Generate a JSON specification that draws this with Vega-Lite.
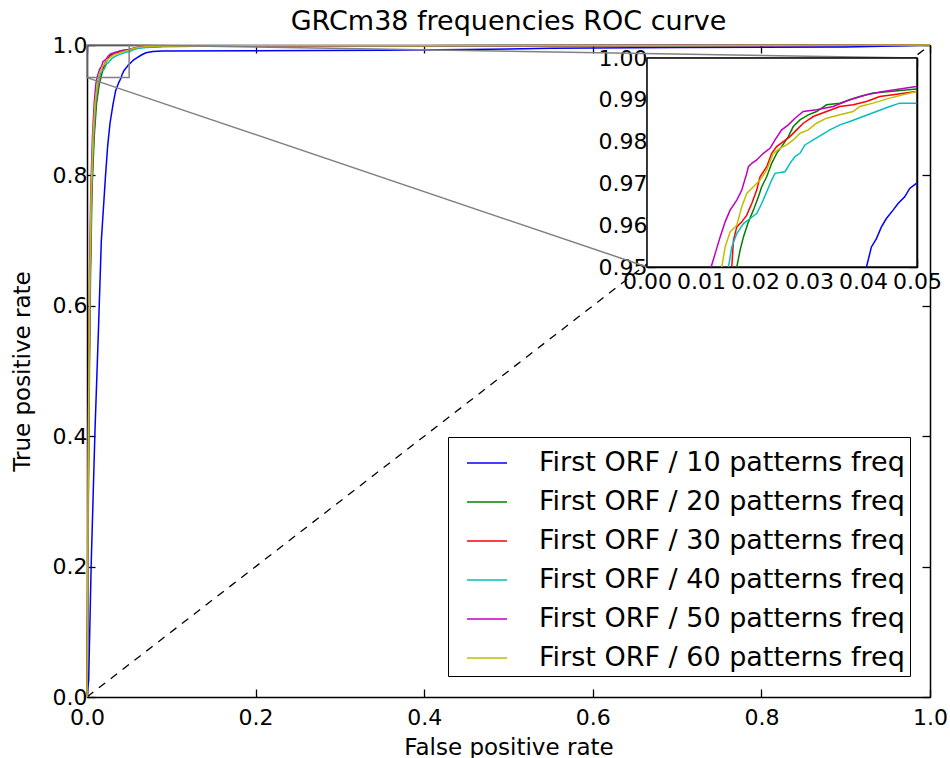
{
"$schema": "https://vega.github.io/schema/vega-lite/v6.json",
"width": 843, "height": 652, "autosize": "none",
"padding": {"left": 87, "top": 45, "right": 20, "bottom": 61},
"background": "white",
"title": {"text": "GRCm38 frequencies ROC curve", "fontSize": 27, "font": "DejaVu Sans", "fontWeight": "normal", "anchor": "middle", "frame": "group", "offset": -2, "color": "black"},
"datasets": {
"roc": [
{"s":"First ORF / 10 patterns freq","i":0,"x":0,"y":0},
{"s":"First ORF / 10 patterns freq","i":1,"x":0.002,"y":0.026},
{"s":"First ORF / 10 patterns freq","i":2,"x":0.005,"y":0.205},
{"s":"First ORF / 10 patterns freq","i":3,"x":0.0095,"y":0.41},
{"s":"First ORF / 10 patterns freq","i":4,"x":0.0135,"y":0.56},
{"s":"First ORF / 10 patterns freq","i":5,"x":0.017,"y":0.70},
{"s":"First ORF / 10 patterns freq","i":6,"x":0.0195,"y":0.75},
{"s":"First ORF / 10 patterns freq","i":7,"x":0.022,"y":0.80},
{"s":"First ORF / 10 patterns freq","i":8,"x":0.0245,"y":0.845},
{"s":"First ORF / 10 patterns freq","i":9,"x":0.0273,"y":0.88},
{"s":"First ORF / 10 patterns freq","i":10,"x":0.031,"y":0.91},
{"s":"First ORF / 10 patterns freq","i":11,"x":0.034,"y":0.93},
{"s":"First ORF / 10 patterns freq","i":12,"x":0.0375,"y":0.942},
{"s":"First ORF / 10 patterns freq","i":13,"x":0.04064,"y":0.95},
{"s":"First ORF / 10 patterns freq","i":14,"x":0.04156,"y":0.9548},
{"s":"First ORF / 10 patterns freq","i":15,"x":0.04249,"y":0.9568},
{"s":"First ORF / 10 patterns freq","i":16,"x":0.04341,"y":0.9596},
{"s":"First ORF / 10 patterns freq","i":17,"x":0.04433,"y":0.9616},
{"s":"First ORF / 10 patterns freq","i":18,"x":0.04557,"y":0.9636},
{"s":"First ORF / 10 patterns freq","i":19,"x":0.04649,"y":0.9652},
{"s":"First ORF / 10 patterns freq","i":20,"x":0.04772,"y":0.9668},
{"s":"First ORF / 10 patterns freq","i":21,"x":0.04865,"y":0.9688},
{"s":"First ORF / 10 patterns freq","i":22,"x":0.04988,"y":0.97},
{"s":"First ORF / 10 patterns freq","i":23,"x":0.055,"y":0.977},
{"s":"First ORF / 10 patterns freq","i":24,"x":0.06,"y":0.981},
{"s":"First ORF / 10 patterns freq","i":25,"x":0.065,"y":0.985},
{"s":"First ORF / 10 patterns freq","i":26,"x":0.07,"y":0.988},
{"s":"First ORF / 10 patterns freq","i":27,"x":0.078,"y":0.990},
{"s":"First ORF / 10 patterns freq","i":28,"x":0.09,"y":0.9908},
{"s":"First ORF / 10 patterns freq","i":29,"x":0.2,"y":0.9912},
{"s":"First ORF / 10 patterns freq","i":30,"x":0.35,"y":0.992},
{"s":"First ORF / 10 patterns freq","i":31,"x":0.45,"y":0.993},
{"s":"First ORF / 10 patterns freq","i":32,"x":0.55,"y":0.995},
{"s":"First ORF / 10 patterns freq","i":33,"x":0.7,"y":0.996},
{"s":"First ORF / 10 patterns freq","i":34,"x":0.9,"y":0.997},
{"s":"First ORF / 10 patterns freq","i":35,"x":0.97,"y":0.999},
{"s":"First ORF / 10 patterns freq","i":36,"x":1,"y":1},
{"s":"First ORF / 20 patterns freq","i":0,"x":0,"y":0},
{"s":"First ORF / 20 patterns freq","i":1,"x":0.0008,"y":0.1},
{"s":"First ORF / 20 patterns freq","i":2,"x":0.0016,"y":0.3},
{"s":"First ORF / 20 patterns freq","i":3,"x":0.0029,"y":0.5},
{"s":"First ORF / 20 patterns freq","i":4,"x":0.0042,"y":0.65},
{"s":"First ORF / 20 patterns freq","i":5,"x":0.006,"y":0.78},
{"s":"First ORF / 20 patterns freq","i":6,"x":0.0086,"y":0.86},
{"s":"First ORF / 20 patterns freq","i":7,"x":0.0113,"y":0.91},
{"s":"First ORF / 20 patterns freq","i":8,"x":0.0146,"y":0.94},
{"s":"First ORF / 20 patterns freq","i":9,"x":0.01663,"y":0.95},
{"s":"First ORF / 20 patterns freq","i":10,"x":0.01724,"y":0.954},
{"s":"First ORF / 20 patterns freq","i":11,"x":0.01786,"y":0.9572},
{"s":"First ORF / 20 patterns freq","i":12,"x":0.01878,"y":0.9608},
{"s":"First ORF / 20 patterns freq","i":13,"x":0.0197,"y":0.9636},
{"s":"First ORF / 20 patterns freq","i":14,"x":0.02063,"y":0.9668},
{"s":"First ORF / 20 patterns freq","i":15,"x":0.02124,"y":0.9692},
{"s":"First ORF / 20 patterns freq","i":16,"x":0.02217,"y":0.9716},
{"s":"First ORF / 20 patterns freq","i":17,"x":0.02309,"y":0.9748},
{"s":"First ORF / 20 patterns freq","i":18,"x":0.02401,"y":0.9772},
{"s":"First ORF / 20 patterns freq","i":19,"x":0.02494,"y":0.9788},
{"s":"First ORF / 20 patterns freq","i":20,"x":0.02617,"y":0.9812},
{"s":"First ORF / 20 patterns freq","i":21,"x":0.02709,"y":0.9836},
{"s":"First ORF / 20 patterns freq","i":22,"x":0.02832,"y":0.9852},
{"s":"First ORF / 20 patterns freq","i":23,"x":0.02986,"y":0.9864},
{"s":"First ORF / 20 patterns freq","i":24,"x":0.0314,"y":0.9872},
{"s":"First ORF / 20 patterns freq","i":25,"x":0.03325,"y":0.9888},
{"s":"First ORF / 20 patterns freq","i":26,"x":0.03571,"y":0.9892},
{"s":"First ORF / 20 patterns freq","i":27,"x":0.03756,"y":0.99},
{"s":"First ORF / 20 patterns freq","i":28,"x":0.03941,"y":0.9908},
{"s":"First ORF / 20 patterns freq","i":29,"x":0.04187,"y":0.9916},
{"s":"First ORF / 20 patterns freq","i":30,"x":0.04495,"y":0.992},
{"s":"First ORF / 20 patterns freq","i":31,"x":0.04988,"y":0.99256},
{"s":"First ORF / 20 patterns freq","i":32,"x":0.055,"y":0.9945},
{"s":"First ORF / 20 patterns freq","i":33,"x":0.06,"y":0.996},
{"s":"First ORF / 20 patterns freq","i":34,"x":0.07,"y":0.997},
{"s":"First ORF / 20 patterns freq","i":35,"x":0.09,"y":0.998},
{"s":"First ORF / 20 patterns freq","i":36,"x":0.15,"y":0.9985},
{"s":"First ORF / 20 patterns freq","i":37,"x":0.4,"y":0.999},
{"s":"First ORF / 20 patterns freq","i":38,"x":0.75,"y":0.9993},
{"s":"First ORF / 20 patterns freq","i":39,"x":1,"y":1},
{"s":"First ORF / 30 patterns freq","i":0,"x":0,"y":0},
{"s":"First ORF / 30 patterns freq","i":1,"x":0.0007,"y":0.1},
{"s":"First ORF / 30 patterns freq","i":2,"x":0.0014,"y":0.3},
{"s":"First ORF / 30 patterns freq","i":3,"x":0.0026,"y":0.5},
{"s":"First ORF / 30 patterns freq","i":4,"x":0.0038,"y":0.65},
{"s":"First ORF / 30 patterns freq","i":5,"x":0.0055,"y":0.78},
{"s":"First ORF / 30 patterns freq","i":6,"x":0.008,"y":0.86},
{"s":"First ORF / 30 patterns freq","i":7,"x":0.0105,"y":0.91},
{"s":"First ORF / 30 patterns freq","i":8,"x":0.0138,"y":0.94},
{"s":"First ORF / 30 patterns freq","i":9,"x":0.0157,"y":0.95},
{"s":"First ORF / 30 patterns freq","i":10,"x":0.01601,"y":0.9564},
{"s":"First ORF / 30 patterns freq","i":11,"x":0.01663,"y":0.9596},
{"s":"First ORF / 30 patterns freq","i":12,"x":0.01755,"y":0.9608},
{"s":"First ORF / 30 patterns freq","i":13,"x":0.01847,"y":0.9624},
{"s":"First ORF / 30 patterns freq","i":14,"x":0.0194,"y":0.9652},
{"s":"First ORF / 30 patterns freq","i":15,"x":0.02032,"y":0.9684},
{"s":"First ORF / 30 patterns freq","i":16,"x":0.02094,"y":0.9716},
{"s":"First ORF / 30 patterns freq","i":17,"x":0.02217,"y":0.974},
{"s":"First ORF / 30 patterns freq","i":18,"x":0.02309,"y":0.9772},
{"s":"First ORF / 30 patterns freq","i":19,"x":0.02401,"y":0.9788},
{"s":"First ORF / 30 patterns freq","i":20,"x":0.02525,"y":0.98},
{"s":"First ORF / 30 patterns freq","i":21,"x":0.02648,"y":0.9812},
{"s":"First ORF / 30 patterns freq","i":22,"x":0.02771,"y":0.9828},
{"s":"First ORF / 30 patterns freq","i":23,"x":0.02894,"y":0.9844},
{"s":"First ORF / 30 patterns freq","i":24,"x":0.03079,"y":0.986},
{"s":"First ORF / 30 patterns freq","i":25,"x":0.03325,"y":0.9872},
{"s":"First ORF / 30 patterns freq","i":26,"x":0.03571,"y":0.9884},
{"s":"First ORF / 30 patterns freq","i":27,"x":0.03818,"y":0.9888},
{"s":"First ORF / 30 patterns freq","i":28,"x":0.04064,"y":0.9896},
{"s":"First ORF / 30 patterns freq","i":29,"x":0.0431,"y":0.9908},
{"s":"First ORF / 30 patterns freq","i":30,"x":0.04557,"y":0.9912},
{"s":"First ORF / 30 patterns freq","i":31,"x":0.04988,"y":0.992},
{"s":"First ORF / 30 patterns freq","i":32,"x":0.055,"y":0.9945},
{"s":"First ORF / 30 patterns freq","i":33,"x":0.06,"y":0.996},
{"s":"First ORF / 30 patterns freq","i":34,"x":0.07,"y":0.9972},
{"s":"First ORF / 30 patterns freq","i":35,"x":0.09,"y":0.998},
{"s":"First ORF / 30 patterns freq","i":36,"x":0.15,"y":0.9985},
{"s":"First ORF / 30 patterns freq","i":37,"x":0.4,"y":0.9988},
{"s":"First ORF / 30 patterns freq","i":38,"x":0.78,"y":0.9992},
{"s":"First ORF / 30 patterns freq","i":39,"x":1,"y":1},
{"s":"First ORF / 40 patterns freq","i":0,"x":0,"y":0},
{"s":"First ORF / 40 patterns freq","i":1,"x":0.0006,"y":0.1},
{"s":"First ORF / 40 patterns freq","i":2,"x":0.0013,"y":0.3},
{"s":"First ORF / 40 patterns freq","i":3,"x":0.0025,"y":0.5},
{"s":"First ORF / 40 patterns freq","i":4,"x":0.0037,"y":0.65},
{"s":"First ORF / 40 patterns freq","i":5,"x":0.0054,"y":0.78},
{"s":"First ORF / 40 patterns freq","i":6,"x":0.0078,"y":0.86},
{"s":"First ORF / 40 patterns freq","i":7,"x":0.0102,"y":0.91},
{"s":"First ORF / 40 patterns freq","i":8,"x":0.0133,"y":0.94},
{"s":"First ORF / 40 patterns freq","i":9,"x":0.01509,"y":0.95},
{"s":"First ORF / 40 patterns freq","i":10,"x":0.0157,"y":0.9548},
{"s":"First ORF / 40 patterns freq","i":11,"x":0.01663,"y":0.958},
{"s":"First ORF / 40 patterns freq","i":12,"x":0.01786,"y":0.9604},
{"s":"First ORF / 40 patterns freq","i":13,"x":0.01909,"y":0.9616},
{"s":"First ORF / 40 patterns freq","i":14,"x":0.02032,"y":0.9628},
{"s":"First ORF / 40 patterns freq","i":15,"x":0.02124,"y":0.9652},
{"s":"First ORF / 40 patterns freq","i":16,"x":0.02217,"y":0.968},
{"s":"First ORF / 40 patterns freq","i":17,"x":0.02309,"y":0.9708},
{"s":"First ORF / 40 patterns freq","i":18,"x":0.02371,"y":0.9724},
{"s":"First ORF / 40 patterns freq","i":19,"x":0.02555,"y":0.9728},
{"s":"First ORF / 40 patterns freq","i":20,"x":0.02648,"y":0.9748},
{"s":"First ORF / 40 patterns freq","i":21,"x":0.0274,"y":0.9764},
{"s":"First ORF / 40 patterns freq","i":22,"x":0.02832,"y":0.9772},
{"s":"First ORF / 40 patterns freq","i":23,"x":0.02925,"y":0.9792},
{"s":"First ORF / 40 patterns freq","i":24,"x":0.03079,"y":0.9804},
{"s":"First ORF / 40 patterns freq","i":25,"x":0.03233,"y":0.9816},
{"s":"First ORF / 40 patterns freq","i":26,"x":0.03387,"y":0.9828},
{"s":"First ORF / 40 patterns freq","i":27,"x":0.03571,"y":0.984},
{"s":"First ORF / 40 patterns freq","i":28,"x":0.03756,"y":0.9848},
{"s":"First ORF / 40 patterns freq","i":29,"x":0.04002,"y":0.986},
{"s":"First ORF / 40 patterns freq","i":30,"x":0.04248,"y":0.9872},
{"s":"First ORF / 40 patterns freq","i":31,"x":0.04495,"y":0.9884},
{"s":"First ORF / 40 patterns freq","i":32,"x":0.0468,"y":0.9892},
{"s":"First ORF / 40 patterns freq","i":33,"x":0.04988,"y":0.9892},
{"s":"First ORF / 40 patterns freq","i":34,"x":0.055,"y":0.9925},
{"s":"First ORF / 40 patterns freq","i":35,"x":0.06,"y":0.9945},
{"s":"First ORF / 40 patterns freq","i":36,"x":0.07,"y":0.9962},
{"s":"First ORF / 40 patterns freq","i":37,"x":0.09,"y":0.9975},
{"s":"First ORF / 40 patterns freq","i":38,"x":0.15,"y":0.9983},
{"s":"First ORF / 40 patterns freq","i":39,"x":0.4,"y":0.999},
{"s":"First ORF / 40 patterns freq","i":40,"x":0.7,"y":0.9993},
{"s":"First ORF / 40 patterns freq","i":41,"x":1,"y":1},
{"s":"First ORF / 50 patterns freq","i":0,"x":0,"y":0},
{"s":"First ORF / 50 patterns freq","i":1,"x":0.0005,"y":0.1},
{"s":"First ORF / 50 patterns freq","i":2,"x":0.001,"y":0.3},
{"s":"First ORF / 50 patterns freq","i":3,"x":0.002,"y":0.5},
{"s":"First ORF / 50 patterns freq","i":4,"x":0.003,"y":0.65},
{"s":"First ORF / 50 patterns freq","i":5,"x":0.0045,"y":0.78},
{"s":"First ORF / 50 patterns freq","i":6,"x":0.0065,"y":0.86},
{"s":"First ORF / 50 patterns freq","i":7,"x":0.0085,"y":0.91},
{"s":"First ORF / 50 patterns freq","i":8,"x":0.0105,"y":0.94},
{"s":"First ORF / 50 patterns freq","i":9,"x":0.01188,"y":0.95},
{"s":"First ORF / 50 patterns freq","i":10,"x":0.01262,"y":0.9532},
{"s":"First ORF / 50 patterns freq","i":11,"x":0.01355,"y":0.9572},
{"s":"First ORF / 50 patterns freq","i":12,"x":0.01447,"y":0.9608},
{"s":"First ORF / 50 patterns freq","i":13,"x":0.01539,"y":0.9636},
{"s":"First ORF / 50 patterns freq","i":14,"x":0.01663,"y":0.966},
{"s":"First ORF / 50 patterns freq","i":15,"x":0.01755,"y":0.9684},
{"s":"First ORF / 50 patterns freq","i":16,"x":0.01847,"y":0.9724},
{"s":"First ORF / 50 patterns freq","i":17,"x":0.01878,"y":0.974},
{"s":"First ORF / 50 patterns freq","i":18,"x":0.0194,"y":0.9748},
{"s":"First ORF / 50 patterns freq","i":19,"x":0.02032,"y":0.9756},
{"s":"First ORF / 50 patterns freq","i":20,"x":0.02155,"y":0.9772},
{"s":"First ORF / 50 patterns freq","i":21,"x":0.02278,"y":0.9784},
{"s":"First ORF / 50 patterns freq","i":22,"x":0.02371,"y":0.9804},
{"s":"First ORF / 50 patterns freq","i":23,"x":0.02494,"y":0.9828},
{"s":"First ORF / 50 patterns freq","i":24,"x":0.02617,"y":0.984},
{"s":"First ORF / 50 patterns freq","i":25,"x":0.0274,"y":0.9856},
{"s":"First ORF / 50 patterns freq","i":26,"x":0.02894,"y":0.9872},
{"s":"First ORF / 50 patterns freq","i":27,"x":0.0314,"y":0.9876},
{"s":"First ORF / 50 patterns freq","i":28,"x":0.03448,"y":0.9884},
{"s":"First ORF / 50 patterns freq","i":29,"x":0.03756,"y":0.99},
{"s":"First ORF / 50 patterns freq","i":30,"x":0.04064,"y":0.9912},
{"s":"First ORF / 50 patterns freq","i":31,"x":0.04372,"y":0.992},
{"s":"First ORF / 50 patterns freq","i":32,"x":0.0468,"y":0.99256},
{"s":"First ORF / 50 patterns freq","i":33,"x":0.04988,"y":0.9932},
{"s":"First ORF / 50 patterns freq","i":34,"x":0.055,"y":0.995},
{"s":"First ORF / 50 patterns freq","i":35,"x":0.06,"y":0.9965},
{"s":"First ORF / 50 patterns freq","i":36,"x":0.07,"y":0.9975},
{"s":"First ORF / 50 patterns freq","i":37,"x":0.09,"y":0.998},
{"s":"First ORF / 50 patterns freq","i":38,"x":0.15,"y":0.9985},
{"s":"First ORF / 50 patterns freq","i":39,"x":0.4,"y":0.999},
{"s":"First ORF / 50 patterns freq","i":40,"x":0.7,"y":0.9995},
{"s":"First ORF / 50 patterns freq","i":41,"x":1,"y":1},
{"s":"First ORF / 60 patterns freq","i":0,"x":0,"y":0},
{"s":"First ORF / 60 patterns freq","i":1,"x":0.0006,"y":0.1},
{"s":"First ORF / 60 patterns freq","i":2,"x":0.0012,"y":0.3},
{"s":"First ORF / 60 patterns freq","i":3,"x":0.0023,"y":0.5},
{"s":"First ORF / 60 patterns freq","i":4,"x":0.0034,"y":0.65},
{"s":"First ORF / 60 patterns freq","i":5,"x":0.005,"y":0.78},
{"s":"First ORF / 60 patterns freq","i":6,"x":0.0072,"y":0.86},
{"s":"First ORF / 60 patterns freq","i":7,"x":0.0095,"y":0.91},
{"s":"First ORF / 60 patterns freq","i":8,"x":0.0122,"y":0.94},
{"s":"First ORF / 60 patterns freq","i":9,"x":0.01385,"y":0.95},
{"s":"First ORF / 60 patterns freq","i":10,"x":0.01447,"y":0.9548},
{"s":"First ORF / 60 patterns freq","i":11,"x":0.01539,"y":0.9584},
{"s":"First ORF / 60 patterns freq","i":12,"x":0.01663,"y":0.96},
{"s":"First ORF / 60 patterns freq","i":13,"x":0.01755,"y":0.9644},
{"s":"First ORF / 60 patterns freq","i":14,"x":0.01847,"y":0.9676},
{"s":"First ORF / 60 patterns freq","i":15,"x":0.0197,"y":0.9692},
{"s":"First ORF / 60 patterns freq","i":16,"x":0.02094,"y":0.9708},
{"s":"First ORF / 60 patterns freq","i":17,"x":0.02217,"y":0.9732},
{"s":"First ORF / 60 patterns freq","i":18,"x":0.0234,"y":0.9772},
{"s":"First ORF / 60 patterns freq","i":19,"x":0.02463,"y":0.9784},
{"s":"First ORF / 60 patterns freq","i":20,"x":0.02586,"y":0.9792},
{"s":"First ORF / 60 patterns freq","i":21,"x":0.02709,"y":0.9804},
{"s":"First ORF / 60 patterns freq","i":22,"x":0.02832,"y":0.982},
{"s":"First ORF / 60 patterns freq","i":23,"x":0.02986,"y":0.9828},
{"s":"First ORF / 60 patterns freq","i":24,"x":0.0314,"y":0.9844},
{"s":"First ORF / 60 patterns freq","i":25,"x":0.03325,"y":0.9856},
{"s":"First ORF / 60 patterns freq","i":26,"x":0.03571,"y":0.9864},
{"s":"First ORF / 60 patterns freq","i":27,"x":0.03818,"y":0.9872},
{"s":"First ORF / 60 patterns freq","i":28,"x":0.03941,"y":0.9884},
{"s":"First ORF / 60 patterns freq","i":29,"x":0.04187,"y":0.9892},
{"s":"First ORF / 60 patterns freq","i":30,"x":0.04495,"y":0.9904},
{"s":"First ORF / 60 patterns freq","i":31,"x":0.04988,"y":0.992},
{"s":"First ORF / 60 patterns freq","i":32,"x":0.055,"y":0.9945},
{"s":"First ORF / 60 patterns freq","i":33,"x":0.06,"y":0.996},
{"s":"First ORF / 60 patterns freq","i":34,"x":0.07,"y":0.9972},
{"s":"First ORF / 60 patterns freq","i":35,"x":0.09,"y":0.998},
{"s":"First ORF / 60 patterns freq","i":36,"x":0.15,"y":0.9986},
{"s":"First ORF / 60 patterns freq","i":37,"x":0.4,"y":0.999},
{"s":"First ORF / 60 patterns freq","i":38,"x":0.7,"y":0.9994},
{"s":"First ORF / 60 patterns freq","i":39,"x":1,"y":1}
],
"diag": [{"x":0,"y":0},{"x":1,"y":1}],
"zoom": [{"x":0,"x2":0.05,"y":0.95,"y2":1}],
"conn": [{"g":"a","x":0,"y":0.95},{"g":"a","x":0.6643,"y":0.6595},{"g":"b","x":0.05,"y":1},{"g":"b","x":0.9846,"y":0.9801}]
},
"resolve": {"scale": {"x": "independent", "y": "independent"}},
"layer": [
{
"resolve": {"axis": {"x": "independent", "y": "independent"}},
"layer": [
{"data": {"name": "diag"},
 "mark": {"type": "line", "color": "black", "strokeDash": [8, 7], "strokeWidth": 1.3},
 "encoding": {
  "x": {"field": "x", "type": "quantitative", "scale": {"domain": [0, 1], "nice": false, "zero": false},
        "axis": {"orient": "bottom", "title": "False positive rate", "values": [0, 0.2, 0.4, 0.6, 0.8, 1], "format": ".1f", "labelPadding": 18, "titlePadding": 8}},
  "y": {"field": "y", "type": "quantitative", "scale": {"domain": [0, 1], "nice": false, "zero": false},
        "axis": {"orient": "left", "title": "True positive rate", "values": [0, 0.2, 0.4, 0.6, 0.8, 1], "format": ".1f", "labelPadding": 8, "titlePadding": 18}}
 }},
{"data": {"name": "roc"},
 "mark": {"type": "line", "strokeWidth": 1.5},
 "encoding": {
  "x": {"field": "x", "type": "quantitative", "axis": {"orient": "top", "labels": false, "title": null, "values": [0, 0.2, 0.4, 0.6, 0.8, 1]}},
  "y": {"field": "y", "type": "quantitative", "axis": {"orient": "right", "labels": false, "title": null, "values": [0, 0.2, 0.4, 0.6, 0.8, 1]}},
  "color": {"field": "s", "type": "nominal",
   "scale": {"domain": ["First ORF / 10 patterns freq", "First ORF / 20 patterns freq", "First ORF / 30 patterns freq", "First ORF / 40 patterns freq", "First ORF / 50 patterns freq", "First ORF / 60 patterns freq"],
             "range": ["#0000ff", "#008000", "#ff0000", "#00bfbf", "#bf00bf", "#bfbf00"]},
   "legend": {"orient": "none", "legendX": 361, "legendY": 392, "title": null, "labelExpr": "datum.label + '\u00a0\u00a0'"}},
  "order": {"field": "i", "type": "quantitative"}
 }},
{"data": {"name": "zoom"},
 "mark": {"type": "rect", "fill": null, "stroke": "#808080", "strokeWidth": 1.5},
 "encoding": {
  "x": {"field": "x", "type": "quantitative", "axis": null}, "x2": {"field": "x2"},
  "y": {"field": "y", "type": "quantitative", "axis": null}, "y2": {"field": "y2"}
 }},
{"data": {"name": "conn"},
 "mark": {"type": "line", "color": "#808080", "strokeWidth": 1.5},
 "encoding": {
  "x": {"field": "x", "type": "quantitative", "axis": null},
  "y": {"field": "y", "type": "quantitative", "axis": null},
  "detail": {"field": "g", "type": "nominal"}
 }}
]
},
{
"resolve": {"axis": {"x": "independent", "y": "independent"}},
"layer": [
{"data": {"name": "zoom"},
 "mark": {"type": "rect", "fill": "white", "stroke": "black", "strokeWidth": 1.5},
 "encoding": {
  "x": {"field": "x", "type": "quantitative", "scale": {"domain": [0, 0.05], "range": [560, 830], "nice": false, "zero": false},
        "axis": {"orient": "bottom", "offset": -430, "title": null, "values": [0, 0.01, 0.02, 0.03, 0.04, 0.05], "format": ".2f", "labelPadding": 12}},
  "x2": {"field": "x2"},
  "y": {"field": "y", "type": "quantitative", "scale": {"domain": [0.95, 1], "range": [222, 13], "nice": false, "zero": false},
        "axis": {"orient": "left", "offset": -560, "title": null, "values": [0.95, 0.96, 0.97, 0.98, 0.99, 1], "format": ".2f", "labelPadding": 8}},
  "y2": {"field": "y2"}
 }},
{"data": {"name": "roc"},
 "transform": [{"filter": "datum.x <= 0.0505 && datum.y >= 0.95"}],
 "mark": {"type": "line", "strokeWidth": 1.5},
 "encoding": {
  "x": {"field": "x", "type": "quantitative", "axis": {"orient": "top", "offset": -13, "labels": false, "title": null, "values": [0, 0.01, 0.02, 0.03, 0.04, 0.05]}},
  "y": {"field": "y", "type": "quantitative", "axis": {"orient": "right", "offset": -13, "labels": false, "title": null, "values": [0.95, 0.96, 0.97, 0.98, 0.99, 1]}},
  "color": {"field": "s", "type": "nominal", "legend": null},
  "order": {"field": "i", "type": "quantitative"}
 }}
]
}
],
"config": {
 "view": {"stroke": null},
 "axis": {"grid": false, "labelFont": "DejaVu Sans", "titleFont": "DejaVu Sans", "labelFontSize": 22, "titleFontSize": 23, "titleFontWeight": "normal", "labelColor": "black", "titleColor": "black", "domainColor": "black", "domainWidth": 1.5, "tickColor": "black", "tickWidth": 1.3, "tickSize": -8, "labelFlush": false, "labelOverlap": false, "labelBound": false, "zindex": 1},
 "legend": {"symbolType": "stroke", "symbolSize": 1600, "symbolStrokeWidth": 1.5, "labelFont": "DejaVu Sans", "labelFontSize": 27, "labelColor": "black", "strokeColor": "black", "fillColor": "white", "padding": 5, "rowPadding": 5, "symbolOffset": 13, "labelOffset": 31, "labelLimit": 0}
}
}
